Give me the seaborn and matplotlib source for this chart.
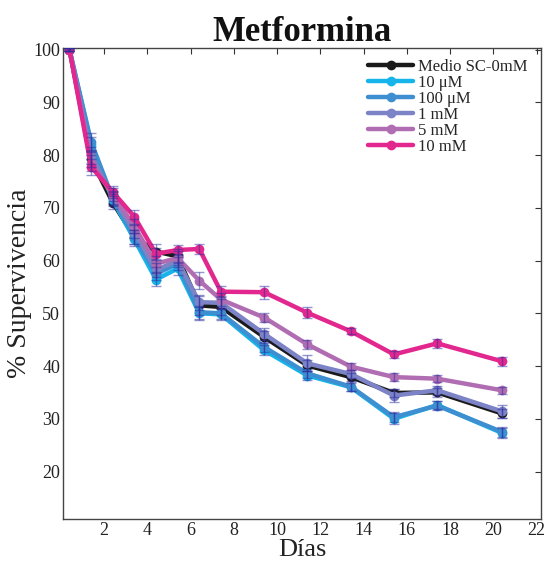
import numpy as np
import pandas as pd
import matplotlib
matplotlib.use("Agg")
import matplotlib.pyplot as plt
import seaborn as sns

days = [0.4, 1.4, 2.4, 3.4, 4.4, 5.4, 6.4, 7.4, 9.4, 11.4, 13.4, 15.4, 17.4, 20.4]
series_names = ["Medio SC-0mM", "10 μM", "100 μM", "1 mM", "5 mM", "10 mM"]
medio = [100, 79.2, 71.0, 64.5, 61.7, 60.8, 51.5, 51.2, 45.5, 40.1, 37.9, 34.9, 35.0, 31.0]
um10 = [100, 82.0, 71.5, 64.0, 56.4, 58.5, 50.0, 49.8, 43.0, 38.2, 36.0, 30.0, 32.6, 27.3]
um100 = [100, 82.5, 71.8, 64.5, 57.5, 59.4, 50.2, 50.0, 43.6, 38.6, 36.1, 30.3, 32.5, 27.5]
mm1 = [100, 80.0, 72.0, 65.5, 58.2, 60.0, 52.1, 52.0, 46.1, 40.5, 38.5, 34.4, 35.4, 31.4]
mm5 = [100, 78.5, 72.5, 66.5, 59.4, 60.5, 56.2, 52.6, 49.2, 44.1, 39.9, 37.9, 37.6, 35.4]
mm10 = [100, 77.8, 73.0, 68.3, 61.3, 62.0, 62.2, 54.1, 54.0, 50.1, 46.6, 42.2, 44.3, 40.9]
err_medio = [0.3, 1.5, 1.2, 1.3, 1.5, 1.3, 1.8, 1.5, 1.2, 1.0, 0.8, 0.8, 0.8, 0.9]
err_um10 = [0.3, 1.5, 1.2, 1.3, 1.2, 1.2, 1.2, 1.0, 1.0, 0.8, 0.8, 1.0, 0.8, 0.9]
err_um100 = [0.3, 1.6, 1.2, 1.3, 1.2, 1.2, 1.2, 1.0, 1.0, 0.8, 0.8, 1.0, 0.8, 0.9]
err_mm1 = [0.3, 1.6, 1.2, 1.3, 1.4, 1.3, 1.4, 1.2, 1.2, 1.5, 0.8, 1.2, 0.9, 1.2]
err_mm5 = [0.3, 1.5, 1.2, 1.3, 1.5, 1.3, 1.6, 1.2, 0.9, 0.8, 0.6, 0.7, 0.7, 0.7]
err_mm10 = [0.3, 1.5, 1.2, 1.3, 1.0, 1.0, 0.9, 1.0, 1.2, 1.0, 0.6, 0.6, 0.8, 0.9]

colors = ["#1a1a1a", "#16b4ea", "#3d8fd1", "#7c83c6", "#b06db2", "#e2278f"]
values = [medio, um10, um100, mm1, mm5, mm10]
errs = [err_medio, err_um10, err_um100, err_mm1, err_mm5, err_mm10]

rows = []
for name, vals in zip(series_names, values):
    for d, v in zip(days, vals):
        rows.append({"Días": d, "val": v, "serie": name})
df = pd.DataFrame(rows)

sns.set_theme(style="white")
plt.rcParams['font.family'] = ['Liberation Serif', 'DejaVu Serif']
plt.rcParams['mathtext.fontset'] = 'stix'

fig = plt.figure(figsize=(5.45, 5.63), dpi=100)
ax = fig.add_axes([0.1156, 0.0782, 0.8771, 0.8365])

sns.lineplot(data=df, x="Días", y="val", hue="serie", hue_order=series_names,
             palette=colors, marker="o", markersize=7, markeredgewidth=0,
             linewidth=3.2, ax=ax, sort=False)

for name, vals, e in zip(series_names, values, errs):
    ax.errorbar(days, vals, yerr=e, fmt="none", ecolor="#2e2e9e", alpha=0.5,
                elinewidth=1.0, capsize=3.5, capthick=1.0, zorder=5)

ax.set_xlim(0.1, 22.2)
ax.set_ylim(11, 100.3)
ax.set_xticks(range(2, 23, 2))
ax.set_yticks(range(20, 101, 10))
ax.tick_params(axis="both", which="both", direction="in", length=4, width=0.8,
               top=True, right=True, labelsize=13, colors="#333333",
               labelcolor="#222222", pad=2)
for s in ax.spines.values():
    s.set_color("#444444")
    s.set_linewidth(1.0)

ax.set_xlabel("Días", fontsize=19, labelpad=0, color="#222222")
ax.set_ylabel("% Supervivencia", fontsize=20, labelpad=1, color="#222222")
ax.set_title("Metformina", fontsize=25, fontweight="bold", pad=5, color="#111111")

leg = ax.legend(loc="upper right", bbox_to_anchor=(0.995, 1.0), frameon=False,
                fontsize=12, handlelength=2.7, labelspacing=0.0,
                handletextpad=0.3, borderaxespad=0.25)
for line in leg.get_lines():
    line.set_linewidth(3.2)

fig.savefig("out.png", dpi=100)
